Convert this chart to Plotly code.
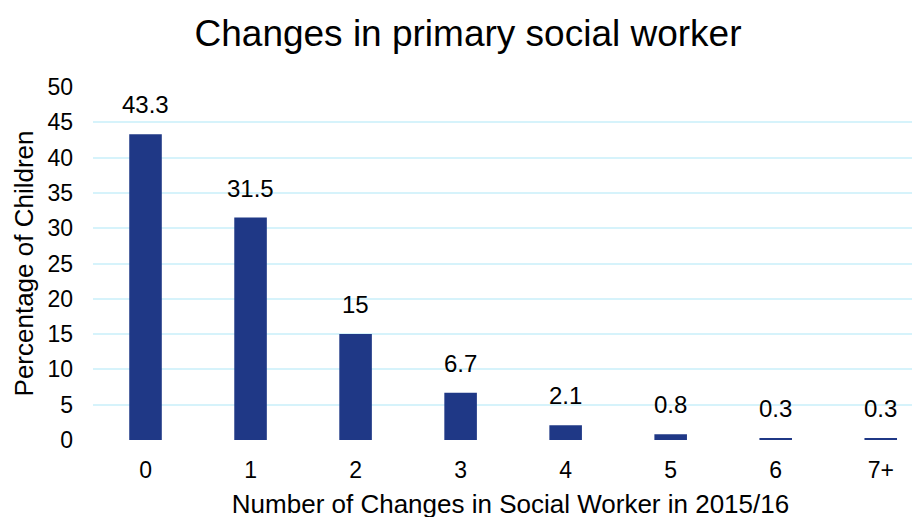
import plotly.graph_objects as go

categories = ["0", "1", "2", "3", "4", "5", "6", "7+"]
values = [43.3, 31.5, 15, 6.7, 2.1, 0.8, 0.3, 0.3]
labels = ["43.3", "31.5", "15", "6.7", "2.1", "0.8", "0.3", "0.3"]

font = "Liberation Sans, Arial, sans-serif"
fig = go.Figure()
fig.add_trace(go.Bar(
    x=list(range(len(categories))), y=values,
    marker=dict(color="#1f3886", line=dict(width=0)),
    width=0.31, hoverinfo="skip",
))
for i, (v, t) in enumerate(zip(values, labels)):
    fig.add_annotation(x=i, y=v, text=t, showarrow=False, yanchor="bottom",
                       yshift=14, font=dict(size=24, color="#000000", family=font))

fig.update_layout(
    width=920, height=517,
    margin=dict(l=85, r=0, t=79, b=85, autoexpand=False),
    plot_bgcolor="white", paper_bgcolor="white",
    showlegend=False,
    title=dict(text="Changes in primary social worker", x=0.5, xanchor="center",
               y=0.952, yanchor="middle",
               font=dict(size=37, color="#000000", family=font)),
    font=dict(family=font, color="#000000"),
)
fig.update_xaxes(
    tickmode="array", tickvals=list(range(len(categories))), ticktext=categories,
    range=[-0.5, 7.45], showgrid=False, zeroline=False, showline=False,
    tickfont=dict(size=23), ticks="", ticklabelstandoff=14,
    title=dict(text="Number of Changes in Social Worker in 2015/16",
               font=dict(size=26), standoff=12),
)
fig.update_yaxes(
    range=[0, 50], dtick=5, showgrid=True, gridcolor="#d6f3fb", gridwidth=2,
    zeroline=False, showline=False, tickfont=dict(size=23), ticks="",
    ticklabelstandoff=19,
    title=dict(text="Percentage of Children", font=dict(size=26), standoff=6),
)
fig.write_html("out.html")
